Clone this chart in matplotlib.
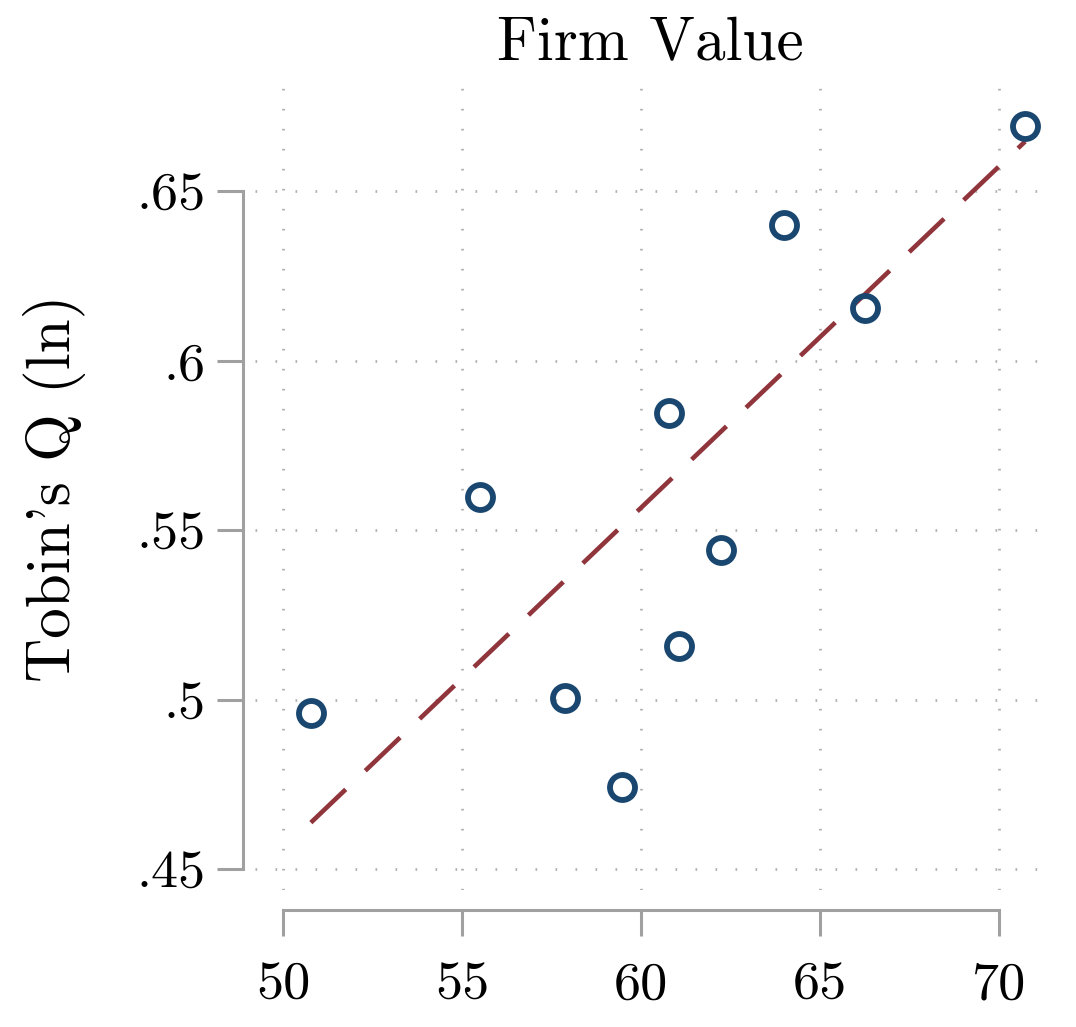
import numpy as np
import matplotlib.pyplot as plt
from matplotlib.ticker import FuncFormatter

plt.rcParams['font.family'] = ['cmr10', 'DejaVu Serif']
plt.rcParams['axes.formatter.use_mathtext'] = True
plt.rcParams['axes.unicode_minus'] = False

# binned firm value vs Tobin's Q
firm_value = [50.78, 55.50, 57.88, 59.47, 60.78, 61.06, 62.23, 64.00, 66.26, 70.73]
tobins_q = [0.4960, 0.5597, 0.5007, 0.4742, 0.5845, 0.5158, 0.5441, 0.6400, 0.6155, 0.6692]

# linear fit line (fitted on the underlying data, endpoints)
fit_x = [50.78, 70.73]
fit_y = [0.4638, 0.6647]

x_ticks = [50, 55, 60, 65, 70]
y_ticks = [0.45, 0.50, 0.55, 0.60, 0.65]
y_labels = ['.45', '.5', '.55', '.6', '.65']

navy = '#1a476f'
maroon = '#90353b'
spine_gray = '#a0a0a0'

fig = plt.figure(figsize=(10.76, 10.27), dpi=100)
ax = fig.add_axes([0.237, 0.133, 0.734, 0.784])

ax.plot(fit_x, fit_y, color=maroon, lw=3.3, dashes=(10.5, 5.9), zorder=3)
ax.plot(firm_value, tobins_q, 'o', ms=18, mfc='none', mec=navy, mew=4.2, zorder=4)

ax.set_xlim(49.22, 71.28)
ax.set_ylim(0.4438, 0.6813)
ax.set_xticks(x_ticks)
ax.set_yticks(y_ticks)
ax.set_yticklabels(y_labels)
ax.xaxis.set_major_formatter(FuncFormatter(lambda v, p: '%d' % v))

ax.grid(True, color='#b0b0b0', lw=2, ls=(0, (0.6, 6.6)))
ax.set_axisbelow(True)

for s in ['top', 'right']:
    ax.spines[s].set_visible(False)
ax.spines['left'].set_position(('outward', 8.6))
ax.spines['bottom'].set_position(('outward', 14.4))
ax.spines['left'].set_bounds(0.45, 0.65)
ax.spines['bottom'].set_bounds(50, 70)
for s in ['left', 'bottom']:
    ax.spines[s].set_color(spine_gray)
    ax.spines[s].set_linewidth(2.2)

ax.tick_params(axis='both', length=19, width=2.2, color=spine_gray, labelsize=39)
ax.tick_params(axis='y', pad=8)
ax.tick_params(axis='x', pad=18)

ax.set_title('Firm Value', fontsize=44, pad=18)
ax.set_ylabel("Tobin's Q (ln)", fontsize=44, labelpad=36)

fig.savefig('out.png', dpi=100, facecolor='white')
